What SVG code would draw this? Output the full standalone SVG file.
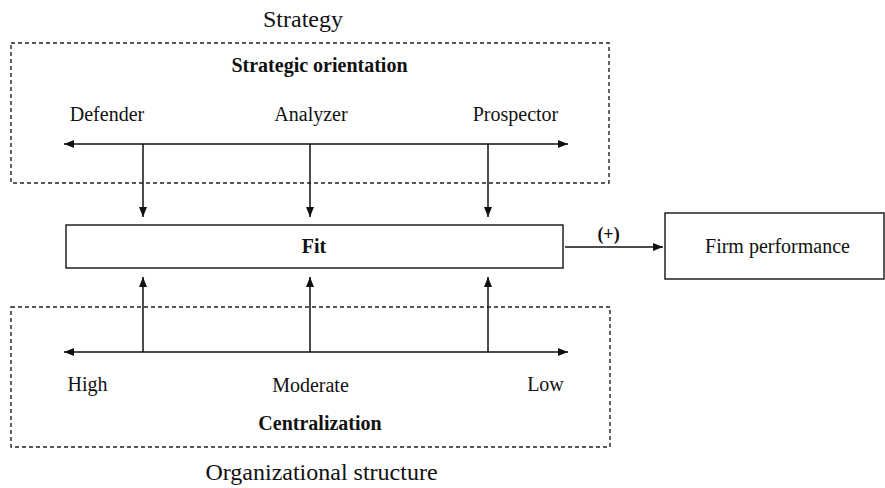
<svg xmlns="http://www.w3.org/2000/svg" width="885" height="488" viewBox="0 0 885 488">
  <defs>
    <marker id="arrow" markerUnits="userSpaceOnUse" markerWidth="11" markerHeight="9" refX="10" refY="4" orient="auto-start-reverse">
      <path d="M0,0 L10,4 L0,8 z" fill="#111"/>
    </marker>
    <style>
      text { font-family: "Liberation Serif", "Times New Roman", serif; fill: #111; }
      .lbl { font-size: 20px; }
      .hd { font-size: 20px; font-weight: bold; }
      .title { font-size: 24px; }
      .group { fill: none; stroke: #222; stroke-width: 1.4; stroke-dasharray: 4 3; }
      .box { fill: #fff; stroke: #222; stroke-width: 1.5; }
      .conn { fill: none; stroke: #111; stroke-width: 1.5; }
    </style>
  </defs>
  <rect width="885" height="488" fill="#fff"/>

  <!-- Strategy group -->
  <g id="strategy">
    <text class="title" x="303" y="27" text-anchor="middle">Strategy</text>
    <rect class="group" x="11" y="43" width="598" height="140"/>
    <text class="hd" x="319.5" y="72" text-anchor="middle">Strategic orientation</text>
    <text class="lbl" x="107" y="121" text-anchor="middle">Defender</text>
    <text class="lbl" x="311" y="121" text-anchor="middle">Analyzer</text>
    <text class="lbl" x="515.5" y="121" text-anchor="middle">Prospector</text>
  </g>

  <!-- Organizational structure group -->
  <g id="structure">
    <rect class="group" x="11" y="307" width="599" height="140"/>
    <text class="lbl" x="87.5" y="391" text-anchor="middle">High</text>
    <text class="lbl" x="310.5" y="392" text-anchor="middle">Moderate</text>
    <text class="lbl" x="545.5" y="391" text-anchor="middle">Low</text>
    <text class="hd" x="320" y="430" text-anchor="middle">Centralization</text>
    <text class="title" x="321.5" y="480" text-anchor="middle">Organizational structure</text>
  </g>

  <!-- Fit node -->
  <g id="fit">
    <rect class="box" x="66" y="225" width="497" height="43"/>
    <text class="hd" x="314" y="253" text-anchor="middle">Fit</text>
  </g>

  <!-- Firm performance node -->
  <g id="performance">
    <rect class="box" x="665" y="213" width="219" height="66"/>
    <text class="lbl" x="777.5" y="253" text-anchor="middle">Firm performance</text>
  </g>

  <!-- Connectors -->
  <g id="connectors">
    <!-- strategy continuum -->
    <line class="conn" x1="64" y1="144" x2="568" y2="144" marker-start="url(#arrow)" marker-end="url(#arrow)"/>
    <line class="conn" x1="143" y1="144" x2="143" y2="217" marker-end="url(#arrow)"/>
    <line class="conn" x1="310" y1="144" x2="310" y2="217" marker-end="url(#arrow)"/>
    <line class="conn" x1="488" y1="144" x2="488" y2="217" marker-end="url(#arrow)"/>
    <!-- centralization continuum -->
    <line class="conn" x1="64" y1="352" x2="568" y2="352" marker-start="url(#arrow)" marker-end="url(#arrow)"/>
    <line class="conn" x1="143" y1="352" x2="143" y2="277" marker-end="url(#arrow)"/>
    <line class="conn" x1="310" y1="352" x2="310" y2="277" marker-end="url(#arrow)"/>
    <line class="conn" x1="488" y1="352" x2="488" y2="277" marker-end="url(#arrow)"/>
    <!-- fit to performance -->
    <line class="conn" x1="565" y1="247" x2="663" y2="247" marker-end="url(#arrow)"/>
    <text style="font-size:18px;font-weight:bold" x="608.5" y="240" text-anchor="middle">(+)</text>
  </g>
</svg>
